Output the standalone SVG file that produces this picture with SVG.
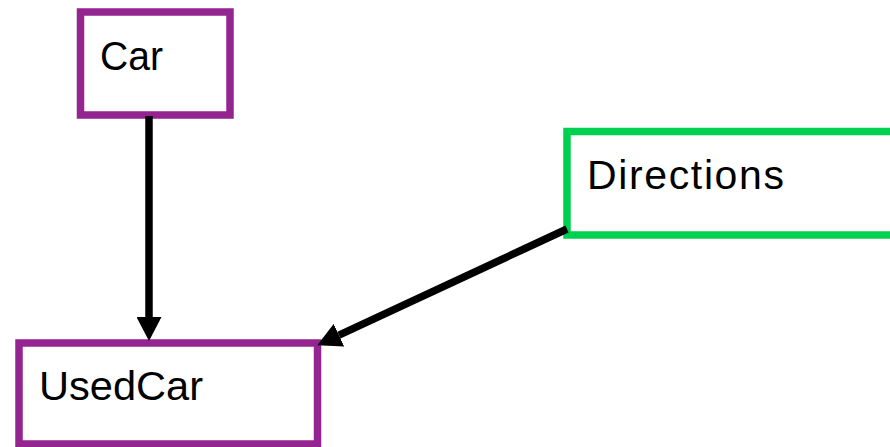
<svg xmlns="http://www.w3.org/2000/svg" width="890" height="447" viewBox="0 0 890 447">
  <style>
    .box { fill: #ffffff; stroke-width: 7.5; }
    .purple { stroke: #932490; }
    .green { stroke: #00D050; }
    .label { font-family: "Liberation Sans", Arial, sans-serif; font-size: 41px; fill: #000000; }
    .edge { fill: none; stroke: #000000; stroke-width: 7.5; }
  </style>
  <defs>
    <marker id="arrow" markerUnits="userSpaceOnUse" viewBox="0 0 24 25" refX="0" refY="12.5" markerWidth="24" markerHeight="25" orient="auto">
      <path d="M0,0 L24,12.5 L0,25 z" fill="#000000"/>
    </marker>
  </defs>

  <rect width="890" height="447" fill="#ffffff"/>

  <g id="node-car">
    <rect class="box purple" x="80.5" y="12" width="149.5" height="103"/>
    <text class="label" x="100" y="70" textLength="63" lengthAdjust="spacingAndGlyphs">Car</text>
  </g>

  <g id="node-usedcar">
    <rect class="box purple" x="19" y="343" width="298.5" height="101"/>
    <text class="label" x="39" y="400" textLength="164" lengthAdjust="spacingAndGlyphs">UsedCar</text>
  </g>

  <g id="node-directions">
    <rect class="box green" x="567" y="131.5" width="340" height="103.5"/>
    <text class="label" x="587" y="189" textLength="197" lengthAdjust="spacing">Directions</text>
  </g>

  <g id="connectors">
    <path class="edge" d="M149,116 L149,317" marker-end="url(#arrow)"/>
    <path class="edge" d="M567,229 L339,335.2" marker-end="url(#arrow)"/>
  </g>
</svg>
